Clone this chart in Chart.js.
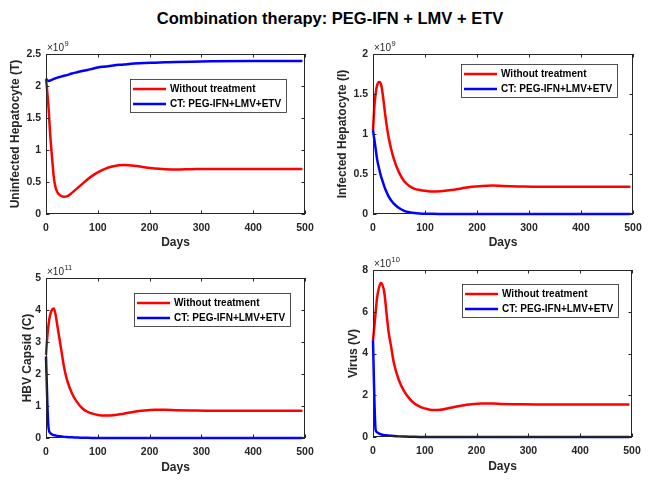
<!DOCTYPE html>
<html>
<head>
<meta charset="utf-8">
<script src="https://cdn.jsdelivr.net/npm/chart.js@4.4.0/dist/chart.umd.min.js"></script>
<style>
  body { margin: 0; background: #fff; width: 654px; height: 491px; position: relative; overflow: hidden; font-family: "Liberation Sans", Arial, sans-serif; }
  #title { position: absolute; left: 3px; width: 654px; top: 9px; text-align: center; font-weight: bold; font-size: 16.5px; color: #000; }
  canvas { position: absolute; }
</style>
</head>
<body>
<div id="title">Combination therapy: PEG-IFN + LMV + ETV</div>
<canvas id="cT"></canvas>
<canvas id="cI"></canvas>
<canvas id="cC"></canvas>
<canvas id="cV"></canvas>
<script>
// time grid (days) shared by every curve
const days = [0, 1.5, 3, 5, 8, 12, 15, 18, 22, 26, 30, 35, 40, 50, 60, 70, 80, 90, 100, 115, 130, 150, 170, 190, 210, 230, 250, 280, 320, 400, 495];

const seriesNames = ["Without treatment", "CT: PEG-IFN+LMV+ETV"];

// uninfected hepatocyte, x1e9
const tUntreated = [2.1, 2.0, 1.85, 1.65, 1.25, 0.85, 0.58, 0.43, 0.34, 0.30, 0.28, 0.27, 0.275, 0.33, 0.40, 0.47, 0.54, 0.60, 0.65, 0.71, 0.745, 0.765, 0.755, 0.73, 0.71, 0.70, 0.695, 0.70, 0.705, 0.705, 0.705];
const tTherapy = [2.12, 2.10, 2.085, 2.08, 2.085, 2.10, 2.11, 2.12, 2.13, 2.14, 2.15, 2.16, 2.17, 2.195, 2.215, 2.235, 2.25, 2.27, 2.29, 2.305, 2.32, 2.335, 2.35, 2.36, 2.365, 2.37, 2.375, 2.38, 2.385, 2.39, 2.39];

// infected hepatocyte, x1e9
const iUntreated = [1.05, 1.22, 1.37, 1.50, 1.61, 1.65, 1.63, 1.53, 1.32, 1.12, 0.96, 0.81, 0.69, 0.52, 0.41, 0.35, 0.315, 0.30, 0.29, 0.28, 0.285, 0.30, 0.32, 0.34, 0.35, 0.355, 0.35, 0.345, 0.34, 0.34, 0.34];
const iTherapy = [1.05, 0.98, 0.91, 0.82, 0.68, 0.56, 0.48, 0.42, 0.34, 0.275, 0.22, 0.17, 0.13, 0.075, 0.04, 0.022, 0.012, 0.007, 0.004, 0.002, 0.001, 0, 0, 0, 0, 0, 0, 0, 0, 0, 0];

// HBV capsid, x1e11
const cUntreated = [2.6, 2.95, 3.25, 3.55, 3.85, 4.02, 4.05, 3.9, 3.5, 3.1, 2.7, 2.2, 1.85, 1.4, 1.12, 0.93, 0.82, 0.76, 0.72, 0.70, 0.71, 0.76, 0.82, 0.86, 0.88, 0.88, 0.87, 0.86, 0.85, 0.85, 0.85];
const cTherapy = [2.55, 1.7, 0.9, 0.3, 0.16, 0.11, 0.09, 0.08, 0.065, 0.055, 0.045, 0.035, 0.03, 0.02, 0.012, 0.008, 0.005, 0.003, 0.002, 0.001, 0, 0, 0, 0, 0, 0, 0, 0, 0, 0, 0];

// virus, x1e10
const vUntreated = [4.64, 5.0, 5.4, 5.95, 6.7, 7.2, 7.38, 7.3, 6.9, 5.95, 5.05, 4.33, 3.58, 2.72, 2.2, 1.85, 1.6, 1.46, 1.37, 1.29, 1.30, 1.40, 1.50, 1.57, 1.60, 1.60, 1.58, 1.57, 1.56, 1.56, 1.56];
const vTherapy = [4.64, 3.0, 1.5, 0.35, 0.22, 0.16, 0.13, 0.11, 0.09, 0.08, 0.07, 0.055, 0.045, 0.03, 0.02, 0.012, 0.008, 0.005, 0.003, 0.002, 0.001, 0, 0, 0, 0, 0, 0, 0, 0, 0, 0];

const xTicks = [0, 100, 200, 300, 400, 500];

const FONT = '"Liberation Sans", Arial, Helvetica, sans-serif';
const AXIS = '#262626';

// draws the matlab style box, inward ticks, x10^n label and the legend
const matlabFrame = {
  id: "matlabFrame",
  afterDraw(chart, args, opts) {
    const { ctx, chartArea: a, scales } = chart;
    ctx.save();
    ctx.strokeStyle = AXIS;
    ctx.lineWidth = 1;
    ctx.strokeRect(a.left + 0.5, a.top + 0.5, a.width - 1, a.height - 1);

    const tl = 3.5;
    ctx.beginPath();
    scales.x.ticks.forEach((t) => {
      const px = Math.round(scales.x.getPixelForValue(t.value)) + 0.5;
      ctx.moveTo(px, a.bottom); ctx.lineTo(px, a.bottom - tl);
      ctx.moveTo(px, a.top); ctx.lineTo(px, a.top + tl);
    });
    scales.y.ticks.forEach((t) => {
      const py = Math.round(scales.y.getPixelForValue(t.value)) + 0.5;
      ctx.moveTo(a.left, py); ctx.lineTo(a.left + tl, py);
      ctx.moveTo(a.right, py); ctx.lineTo(a.right - tl, py);
    });
    ctx.stroke();

    // exponent
    ctx.fillStyle = AXIS;
    ctx.textBaseline = "alphabetic";
    ctx.font = "10px " + FONT;
    ctx.fillText("×10", a.left + 1, a.top - 3);
    const w = ctx.measureText("×10").width;
    ctx.font = "7.5px " + FONT;
    ctx.fillText(opts.exp, a.left + 1 + w + 0.5, a.top - 8);

    // legend
    const bx = a.left + opts.legend[0], by = a.top + opts.legend[1];
    const bw = 156, bh = 33;
    ctx.fillStyle = "#fff";
    ctx.fillRect(bx, by, bw, bh);
    ctx.strokeStyle = AXIS;
    ctx.lineWidth = 0.8;
    ctx.strokeRect(bx + 0.5, by + 0.5, bw, bh);
    ctx.font = "bold 10px " + FONT;
    ctx.textBaseline = "middle";
    chart.data.datasets.forEach((ds, i) => {
      const cy = by + 10 + i * 15;
      ctx.strokeStyle = ds.borderColor;
      ctx.lineWidth = 2.5;
      ctx.beginPath();
      ctx.moveTo(bx + 3, cy); ctx.lineTo(bx + 36, cy);
      ctx.stroke();
      ctx.fillStyle = "#000";
      ctx.fillText(ds.label, bx + 40, cy + 0.5);
    });
    ctx.restore();
  },
};

function toPoints(ys) {
  return days.map((d, i) => ({ x: d, y: ys[i] }));
}

// canvas box, plot box, y-title offset, x-title offset
function makePanel(id, cv, plot, yTitle, yMax, yStep, untreated, therapy, exp, legend, yPad, xPad) {
  const el = document.getElementById(id);
  el.width = cv[2]; el.height = cv[3];
  el.style.left = cv[0] + "px"; el.style.top = cv[1] + "px";
  const yW = plot[0] - cv[0];
  const xH = cv[1] + cv[3] - plot[3];

  new Chart(el, {
    type: "line",
    data: {
      datasets: [
        { label: seriesNames[0], data: toPoints(untreated), borderColor: "#ff0000", borderWidth: 2.5 },
        { label: seriesNames[1], data: toPoints(therapy), borderColor: "#0000ff", borderWidth: 2.5 },
      ],
    },
    options: {
      responsive: false,
      animation: false,
      events: [],
      clip: 4,
      elements: { point: { radius: 0 }, line: { cubicInterpolationMode: "monotone" } },
      layout: { padding: { top: plot[1] - cv[1], right: cv[0] + cv[2] - plot[2], left: 0, bottom: 0 } },
      plugins: {
        legend: { display: false },
        tooltip: { enabled: false },
        matlabFrame: { exp: exp, legend: legend },
      },
      scales: {
        x: {
          type: "linear",
          min: 0, max: 500,
          afterBuildTicks: (s) => { s.ticks = xTicks.map((v) => ({ value: v })); },
          afterFit: (s) => { s.height = xH; },
          grid: { display: false, drawTicks: false },
          border: { display: false },
          ticks: { padding: 8, color: AXIS, maxRotation: 0, callback: (v) => String(v), font: { family: FONT, size: 10.5, weight: "bold" } },
          title: { display: true, text: "Days", color: AXIS, padding: { top: 0, bottom: xPad }, font: { family: FONT, size: 12, weight: "bold" } },
        },
        y: {
          min: 0, max: yMax,
          afterFit: (s) => { s.width = yW; },
          grid: { display: false, drawTicks: false },
          border: { display: false },
          ticks: { stepSize: yStep, padding: 5, color: AXIS, callback: (v) => String(v), font: { family: FONT, size: 10.5, weight: "bold" } },
          title: { display: true, text: yTitle, color: AXIS, padding: { top: yPad, bottom: 0 }, font: { family: FONT, size: 12, weight: "bold" } },
        },
      },
    },
    plugins: [matlabFrame],
  });
}

makePanel("cT", [0, 30, 327, 234], [46, 54, 305, 214], "Uninfected Hepatocyte (T)", 2.5, 0.5, tUntreated, tTherapy, "9", [84, 25], 8, 14);
makePanel("cI", [327, 30, 327, 234], [373, 54, 633, 214], "Infected Hepatocyte (I)", 2, 0.5, iUntreated, iTherapy, "9", [88, 10], 8, 14);
makePanel("cC", [0, 250, 327, 241], [46, 278, 305, 438], "HBV Capsid (C)", 5, 1, cUntreated, cTherapy, "11", [88, 15], 20, 16);
makePanel("cV", [327, 250, 327, 241], [373, 270, 632, 437], "Virus (V)", 8, 2, vUntreated, vTherapy, "10", [89, 14], 19, 17);
</script>
</body>
</html>
